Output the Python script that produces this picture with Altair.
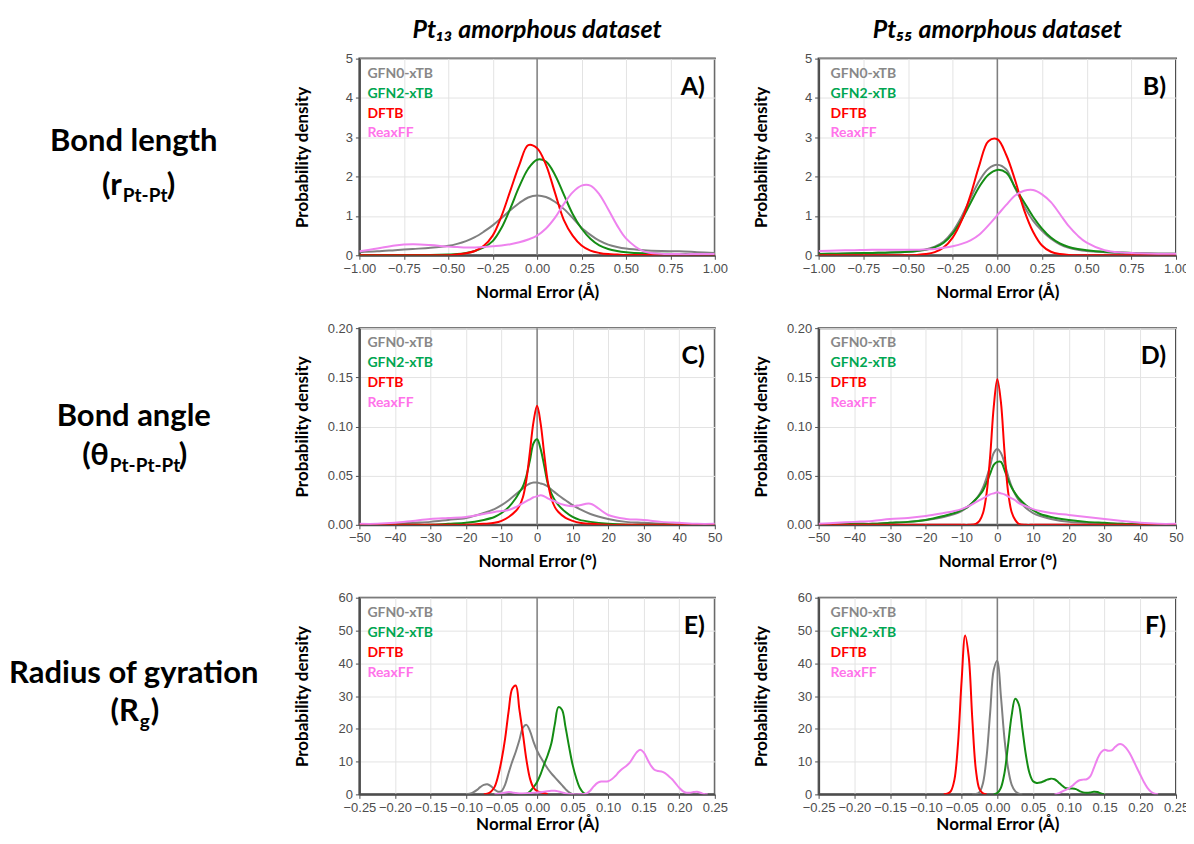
import altair as alt
import pandas as pd

FONT = "Lato"
TICK_FONT = "Liberation Sans"

SERIES = ["GFN0-xTB", "GFN2-xTB", "DFTB", "ReaxFF"]
LINE_COLORS = ["#808080", "#148c14", "#ff0000", "#ee82ee"]
TEXT_COLORS = ["#888888", "#00a651", "#ff0000", "#ff73ea"]

COL_TITLES = ["Pt₁₃ amorphous dataset", "Pt₅₅ amorphous dataset"]
ROW_TITLES = ["Bond length", "Bond angle", "Radius of gyration"]
ROW_SYMBOLS = ["r", "θ", "R"]
ROW_SUBS = ["Pt-Pt", "Pt-Pt-Pt", "g"]
LETTERS = ["A)", "B)", "C)", "D)", "E)", "F)"]
X_TITLES = ["Normal Error (Å)", "Normal Error (°)", "Normal Error (Å)"]
Y_TITLE = "Probability density"

# tick values
X_TICKS_LEN = [-1.0, -0.75, -0.5, -0.25, 0.0, 0.25, 0.5, 0.75, 1.0]
Y_TICKS_LEN = [0, 1, 2, 3, 4, 5]
X_TICKS_ANG = [-50, -40, -30, -20, -10, 0, 10, 20, 30, 40, 50]
Y_TICKS_ANG = [0.0, 0.05, 0.10, 0.15, 0.20]
X_TICKS_RG = [-0.25, -0.2, -0.15, -0.1, -0.05, 0.0, 0.05, 0.1, 0.15, 0.2, 0.25]
Y_TICKS_RG = [0, 10, 20, 30, 40, 50, 60]

# ---- bond length (A, B) ----
X_AB = [-1.0, -0.9, -0.8, -0.7, -0.6, -0.5, -0.45, -0.4, -0.35, -0.3, -0.25, -0.2, -0.15, -0.1, -0.05,
        0.0, 0.05, 0.1, 0.15, 0.2, 0.25, 0.3, 0.35, 0.4, 0.45, 0.5, 0.6, 0.7, 0.8, 0.9, 1.0]
A_GFN0 = [0.08, 0.10, 0.13, 0.16, 0.19, 0.24, 0.29, 0.36, 0.46, 0.60, 0.76, 0.95, 1.15, 1.33, 1.47,
          1.52, 1.48, 1.36, 1.18, 0.95, 0.70, 0.52, 0.37, 0.27, 0.21, 0.17, 0.13, 0.11, 0.10, 0.08, 0.06]
A_GFN2 = [0.01, 0.01, 0.01, 0.01, 0.01, 0.02, 0.03, 0.06, 0.11, 0.20, 0.36, 0.70, 1.20, 1.75, 2.20,
          2.43, 2.38, 2.05, 1.55, 1.05, 0.68, 0.42, 0.25, 0.16, 0.11, 0.08, 0.05, 0.04, 0.03, 0.03, 0.02]
A_DFTB = [0.0, 0.0, 0.0, 0.0, 0.0, 0.0, 0.02, 0.05, 0.11, 0.24, 0.50, 1.00, 1.65, 2.30, 2.80,
          2.72, 2.30, 1.60, 0.90, 0.50, 0.25, 0.12, 0.06, 0.03, 0.02, 0.01, 0.01, 0.0, 0.0, 0.0, 0.0]
A_REAX = [0.10, 0.17, 0.25, 0.28, 0.26, 0.22, 0.21, 0.20, 0.20, 0.21, 0.23, 0.25, 0.28, 0.33, 0.40,
          0.50, 0.68, 0.95, 1.30, 1.60, 1.77, 1.77, 1.55, 1.17, 0.76, 0.43, 0.10, 0.04, 0.03, 0.03, 0.03]

B_GFN0 = [0.03, 0.04, 0.05, 0.06, 0.07, 0.09, 0.11, 0.15, 0.22, 0.35, 0.60, 0.98, 1.45, 1.90, 2.20,
          2.30, 2.18, 1.70, 1.25, 0.88, 0.62, 0.42, 0.28, 0.19, 0.14, 0.11, 0.08, 0.06, 0.05, 0.04, 0.04]
B_GFN2 = [0.03, 0.04, 0.05, 0.06, 0.07, 0.09, 0.11, 0.14, 0.20, 0.32, 0.55, 0.90, 1.33, 1.75, 2.05,
          2.17, 2.10, 1.72, 1.35, 0.98, 0.68, 0.45, 0.30, 0.21, 0.16, 0.13, 0.09, 0.07, 0.05, 0.04, 0.04]
B_DFTB = [0.0, 0.0, 0.0, 0.0, 0.0, 0.0, 0.01, 0.03, 0.08, 0.20, 0.45, 0.88, 1.53, 2.30, 2.90,
          2.95, 2.55, 1.90, 1.15, 0.60, 0.25, 0.09, 0.03, 0.01, 0.0, 0.0, 0.0, 0.0, 0.0, 0.0, 0.0]
B_REAX = [0.11, 0.12, 0.13, 0.14, 0.14, 0.14, 0.14, 0.15, 0.16, 0.19, 0.23, 0.29, 0.38, 0.53, 0.76,
          1.02, 1.28, 1.52, 1.64, 1.66, 1.55, 1.35, 1.05, 0.74, 0.50, 0.32, 0.13, 0.07, 0.05, 0.04, 0.04]

# ---- bond angle (C, D) ----
X_CD = [-50, -45, -40, -35, -30, -25, -20, -15, -12, -10, -8, -6, -5, -4, -3, -2, -1,
        0, 1, 2, 3, 4, 5, 6, 8, 10, 12, 15, 20, 25, 30, 35, 40, 45, 50]
C_GFN0 = [0.0, 0.0, 0.001, 0.002, 0.003, 0.005, 0.007, 0.012, 0.016, 0.020, 0.025, 0.031, 0.034, 0.037, 0.040, 0.042, 0.043,
          0.043, 0.042, 0.041, 0.039, 0.036, 0.033, 0.030, 0.025, 0.020, 0.016, 0.011, 0.006, 0.003, 0.002, 0.001, 0.0, 0.0, 0.0]
C_GFN2 = [0.0, 0.0, 0.0, 0.0, 0.0, 0.001, 0.002, 0.005, 0.008, 0.012, 0.018, 0.027, 0.033, 0.039, 0.050, 0.066, 0.083,
          0.087, 0.077, 0.060, 0.042, 0.032, 0.025, 0.020, 0.013, 0.008, 0.005, 0.003, 0.001, 0.0, 0.0, 0.0, 0.0, 0.0, 0.0]
C_DFTB = [0.0, 0.0, 0.0, 0.0, 0.0, 0.0, 0.0, 0.001, 0.002, 0.004, 0.008, 0.014, 0.019, 0.028, 0.046, 0.075, 0.105,
          0.121, 0.103, 0.072, 0.044, 0.027, 0.018, 0.013, 0.007, 0.004, 0.002, 0.001, 0.0, 0.0, 0.0, 0.0, 0.0, 0.0, 0.0]
C_REAX = [0.001, 0.001, 0.002, 0.004, 0.006, 0.007, 0.008, 0.011, 0.013, 0.014, 0.015, 0.018, 0.020, 0.022, 0.024, 0.026, 0.028,
          0.029, 0.030, 0.029, 0.027, 0.025, 0.024, 0.022, 0.020, 0.019, 0.020, 0.0215, 0.010, 0.006, 0.005, 0.003, 0.002, 0.001, 0.001]

D_GFN0 = [0.0, 0.0, 0.001, 0.001, 0.002, 0.003, 0.005, 0.008, 0.011, 0.014, 0.019, 0.026, 0.031, 0.038, 0.048, 0.060, 0.073,
          0.077, 0.073, 0.063, 0.050, 0.039, 0.031, 0.025, 0.017, 0.012, 0.009, 0.006, 0.003, 0.002, 0.001, 0.001, 0.0, 0.0, 0.0]
D_GFN2 = [0.0, 0.0, 0.001, 0.001, 0.002, 0.003, 0.005, 0.009, 0.012, 0.015, 0.019, 0.026, 0.030, 0.035, 0.043, 0.052, 0.061,
          0.064, 0.064, 0.056, 0.046, 0.038, 0.032, 0.027, 0.020, 0.015, 0.011, 0.008, 0.005, 0.003, 0.002, 0.001, 0.001, 0.0, 0.0]
D_DFTB = [0.0, 0.0, 0.0, 0.0, 0.0, 0.0, 0.0, 0.0, 0.0, 0.0, 0.0, 0.001, 0.004, 0.012, 0.032, 0.070, 0.120,
          0.148, 0.125, 0.075, 0.034, 0.013, 0.005, 0.001, 0.0, 0.0, 0.0, 0.0, 0.0, 0.0, 0.0, 0.0, 0.0, 0.0, 0.0]
D_REAX = [0.001, 0.002, 0.003, 0.004, 0.006, 0.007, 0.009, 0.012, 0.014, 0.016, 0.019, 0.023, 0.025, 0.027, 0.029, 0.031, 0.032,
          0.033, 0.032, 0.031, 0.029, 0.027, 0.025, 0.022, 0.019, 0.016, 0.014, 0.012, 0.010, 0.008, 0.006, 0.004, 0.002, 0.001, 0.001]

# ---- radius of gyration (E, F) ----
E_GFN0_X = [-0.1, -0.095, -0.09, -0.085, -0.08, -0.075, -0.07, -0.065, -0.06, -0.055, -0.05, -0.045, -0.04,
            -0.035, -0.03, -0.025, -0.02, -0.015, -0.01, -0.005, 0.0, 0.005, 0.01, 0.015, 0.02, 0.025,
            0.03, 0.035, 0.04, 0.045, 0.05]
E_GFN0_Y = [0.0, 0.2, 0.6, 1.3, 2.2, 2.9, 3.1, 2.5, 1.5, 0.8, 1.0, 3.0, 6.6,
            10.0, 13.0, 16.5, 20.3, 21.2, 19.3, 16.0, 13.3, 11.3, 9.5, 7.8, 6.4, 5.2,
            4.0, 2.8, 1.6, 0.6, 0.0]
E_GFN2_X = [-0.02, -0.015, -0.01, -0.005, 0.0, 0.005, 0.01, 0.015, 0.02, 0.025, 0.03, 0.035, 0.04,
            0.045, 0.05, 0.055, 0.06, 0.065, 0.07]
E_GFN2_Y = [0.0, 0.1, 0.9, 2.2, 3.8, 6.2, 9.2, 12.0, 15.5, 21.5, 26.6, 25.8, 20.5,
            14.5, 9.0, 5.0, 2.0, 0.5, 0.0]
E_DFTB_X = [-0.075, -0.07, -0.065, -0.06, -0.055, -0.05, -0.045, -0.04, -0.035, -0.03, -0.025, -0.02,
            -0.015, -0.01, -0.005, 0.0, 0.005, 0.01, 0.015]
E_DFTB_Y = [0.0, 0.2, 0.8, 2.2, 5.5, 10.5, 17.0, 25.5, 32.2, 33.2, 26.0, 18.5,
            10.5, 4.8, 2.0, 1.0, 0.6, 0.4, 0.0]
E_REAX_X = [-0.06, -0.05, -0.04, -0.035, -0.03, -0.025, -0.02, -0.01, 0.0, 0.01, 0.02, 0.025, 0.03,
            0.04, 0.045, 0.05, 0.06, 0.07, 0.075, 0.08, 0.085, 0.09, 0.095, 0.1, 0.105, 0.11, 0.115,
            0.12, 0.125, 0.13, 0.135, 0.14, 0.145, 0.15, 0.155, 0.16, 0.165, 0.17, 0.175, 0.18, 0.185,
            0.19, 0.195, 0.2, 0.205, 0.21, 0.215, 0.22, 0.225, 0.23, 0.235, 0.24]
E_REAX_Y = [0.0, 0.3, 0.7, 0.6, 0.4, 0.3, 0.3, 0.4, 0.6, 0.8, 1.1, 1.1, 0.9,
            0.3, 0.1, 0.0, 0.0, 0.3, 1.2, 2.5, 3.5, 3.9, 3.9, 4.0, 4.6, 5.6, 6.8,
            7.8, 8.6, 9.6, 11.2, 12.8, 13.6, 12.8, 10.8, 8.8, 7.5, 7.1, 7.0, 6.5, 5.6,
            4.6, 3.3, 2.0, 1.0, 0.5, 0.5, 0.7, 0.8, 0.5, 0.1, 0.0]

F_GFN0_X = [-0.035, -0.03, -0.025, -0.02, -0.015, -0.01, -0.005, 0.0, 0.005, 0.01, 0.015, 0.02, 0.025, 0.03, 0.035]
F_GFN0_Y = [0.0, 0.1, 0.7, 3.5, 11.5, 25.0, 38.0, 40.8, 30.0, 17.0, 8.0, 3.0, 1.0, 0.2, 0.0]
F_GFN2_X = [-0.005, 0.0, 0.005, 0.01, 0.015, 0.02, 0.025, 0.03, 0.035, 0.04, 0.045, 0.05, 0.055, 0.06,
            0.065, 0.07, 0.075, 0.08, 0.085, 0.09, 0.095, 0.1, 0.105, 0.11, 0.115, 0.12, 0.125, 0.13,
            0.135, 0.14, 0.145, 0.15]
F_GFN2_Y = [0.0, 0.4, 2.0, 6.5, 15.0, 24.0, 29.2, 27.5, 20.0, 12.0, 6.5, 4.0, 3.5, 3.6,
            4.0, 4.5, 4.8, 4.6, 3.8, 2.8, 2.0, 1.8, 1.8, 1.6, 1.0, 0.6, 0.5, 0.6,
            0.8, 0.7, 0.3, 0.0]
F_DFTB_X = [-0.075, -0.07, -0.065, -0.06, -0.055, -0.05, -0.045, -0.04, -0.035, -0.03, -0.025, -0.02, -0.015]
F_DFTB_Y = [0.0, 0.2, 1.0, 4.5, 15.5, 34.5, 48.5, 42.0, 23.0, 7.5, 1.6, 0.3, 0.0]
F_REAX_X = [0.08, 0.085, 0.09, 0.095, 0.1, 0.105, 0.11, 0.115, 0.12, 0.125, 0.13, 0.135, 0.14, 0.145,
            0.15, 0.155, 0.16, 0.165, 0.17, 0.175, 0.18, 0.185, 0.19, 0.195, 0.2, 0.205, 0.21, 0.215,
            0.22, 0.225]
F_REAX_Y = [0.0, 0.3, 0.8, 1.3, 1.8, 2.6, 3.6, 4.3, 4.5, 4.6, 5.5, 8.0, 10.8, 12.8,
            13.6, 13.3, 13.4, 14.5, 15.3, 15.2, 14.2, 12.6, 10.5, 8.2, 6.0, 3.8, 2.0, 0.8,
            0.2, 0.0]

# ---- layout ----
LW = 249           # row-label column width
WA, WB = 356, 358  # panel widths
PH = 197           # panel height
HSP = 104
VSP = 73
TOP = 51           # room above the first row of panels

AX = dict(labelFont=TICK_FONT, labelFontSize=13, labelColor="#4d4d4d", labelPadding=3,
          labelFlush=False, labelOverlap=False, labelBound=False,
          tickColor="#4d4d4d", tickSize=4, tickWidth=1,
          domainColor="#4d4d4d", domainWidth=2,
          gridColor="#e3e3e3", gridWidth=1,
          titleFont=FONT, titleFontSize=17, titleFontWeight="bold", titleColor="#000000")


def long_df(xs_list, ys_list):
    rows = []
    for s, xs, ys in zip(SERIES, xs_list, ys_list):
        for x, y in zip(xs, ys):
            rows.append({"series": s, "x": x, "y": y})
    return pd.DataFrame(rows)


def text_layer(txt, x, y, size, color="#000000", align="center", italic=False, weight="bold"):
    kw = dict(font=FONT, fontSize=size, fontWeight=weight, color=color, align=align, baseline="middle")
    if italic:
        kw["fontStyle"] = "italic"
    return alt.Chart(pd.DataFrame({"t": [txt]})).mark_text(**kw).encode(
        x=alt.value(x), y=alt.value(y), text="t:N")


def panel(df, width, xdom, xticks, xfmt, ydom, yticks, yfmt, xtitle, letter, legend_x,
          col_title=None, xtitle_pad=9):
    xs = alt.Scale(domain=xdom, nice=False, zero=False)
    ys = alt.Scale(domain=ydom, nice=False, zero=False)
    xaxis = alt.Axis(values=xticks, format=xfmt, title=xtitle, titlePadding=xtitle_pad, **AX)
    yaxis = alt.Axis(values=yticks, format=yfmt, title=Y_TITLE, titlePadding=4,
                     minExtent=44, maxExtent=44, **AX)
    zero = alt.Chart(pd.DataFrame({"x": [0.0]})).mark_rule(color="#7f7f7f", strokeWidth=1.5).encode(
        x=alt.X("x:Q", scale=xs, axis=xaxis))
    lines = alt.Chart(df).mark_line(strokeWidth=2, interpolate="catmull-rom", clip=True).encode(
        x=alt.X("x:Q", scale=xs, axis=xaxis),
        y=alt.Y("y:Q", scale=ys, axis=yaxis),
        color=alt.Color("series:N", scale=alt.Scale(domain=SERIES, range=LINE_COLORS), legend=None),
    )
    layers = [zero, lines]
    for i, s in enumerate(SERIES):
        layers.append(text_layer(s, legend_x, 15 + 20 * i, 14, TEXT_COLORS[i], align="left"))
    layers.append(text_layer(letter, width - 10, 28, 25, align="right"))
    if col_title is not None:
        layers.append(text_layer(col_title, width / 2, -29, 25, italic=True))
    return alt.layer(*layers).properties(width=width, height=PH)


def row_label(i, y_main, y_sym, sym_right, sub_left, close_left, anchor=False):
    layers = [
        text_layer(ROW_TITLES[i], 127, y_main, 31),
        text_layer("(" + ROW_SYMBOLS[i], sym_right, y_sym, 31, align="right"),
        text_layer(ROW_SUBS[i], sub_left, y_sym + 10, 19, align="left"),
        text_layer(")", close_left, y_sym, 31, align="left"),
    ]
    if anchor:
        # invisible (white) anchor that fixes the top edge of the figure
        layers.append(alt.Chart(pd.DataFrame({"a": [0]})).mark_rule(color="white", strokeWidth=1).encode(
            x=alt.value(0), x2=alt.value(10), y=alt.value(-TOP)))
    return alt.layer(*layers).properties(width=LW, height=PH, view=alt.ViewBackground(stroke="white"))


dfA = long_df([X_AB] * 4, [A_GFN0, A_GFN2, A_DFTB, A_REAX])
dfB = long_df([X_AB] * 4, [B_GFN0, B_GFN2, B_DFTB, B_REAX])
dfC = long_df([X_CD] * 4, [C_GFN0, C_GFN2, C_DFTB, C_REAX])
dfD = long_df([X_CD] * 4, [D_GFN0, D_GFN2, D_DFTB, D_REAX])
dfE = long_df([E_GFN0_X, E_GFN2_X, E_DFTB_X, E_REAX_X], [E_GFN0_Y, E_GFN2_Y, E_DFTB_Y, E_REAX_Y])
dfF = long_df([F_GFN0_X, F_GFN2_X, F_DFTB_X, F_REAX_X], [F_GFN0_Y, F_GFN2_Y, F_DFTB_Y, F_REAX_Y])

pA = panel(dfA, WA, [-1, 1], X_TICKS_LEN, ".2f", [0, 5], Y_TICKS_LEN, "d", X_TITLES[0], LETTERS[0], 8, COL_TITLES[0])
pB = panel(dfB, WB, [-1, 1], X_TICKS_LEN, ".2f", [0, 5], Y_TICKS_LEN, "d", X_TITLES[0], LETTERS[1], 12, COL_TITLES[1])
pC = panel(dfC, WA, [-50, 50], X_TICKS_ANG, "d", [0, 0.2], Y_TICKS_ANG, ".2f", X_TITLES[1], LETTERS[2], 8)
pD = panel(dfD, WB, [-50, 50], X_TICKS_ANG, "d", [0, 0.2], Y_TICKS_ANG, ".2f", X_TITLES[1], LETTERS[3], 12)
pE = panel(dfE, WA, [-0.25, 0.25], X_TICKS_RG, ".2f", [0, 60], Y_TICKS_RG, "d", X_TITLES[2], LETTERS[4], 8,
           xtitle_pad=2)
pF = panel(dfF, WB, [-0.25, 0.25], X_TICKS_RG, ".2f", [0, 60], Y_TICKS_RG, "d", X_TITLES[2], LETTERS[5], 12,
           xtitle_pad=2)

lab1 = row_label(0, 84, 128, 115, 116, 160, anchor=True)
lab2 = row_label(1, 89, 128, 102, 103, 172)
lab3 = row_label(2, 76, 115, 132, 133, 144)

chart = alt.concat(
    lab1, pA, pB,
    lab2, pC, pD,
    lab3, pE, pF,
    columns=3,
    spacing={"row": VSP, "column": HSP},
    bounds="flush",
).properties(
    padding={"left": -3, "top": -3, "right": -4, "bottom": -1}
).configure_view(stroke="#4d4d4d", strokeWidth=2)

chart.save("out.html", embed_options={"renderer": "svg", "actions": False})
